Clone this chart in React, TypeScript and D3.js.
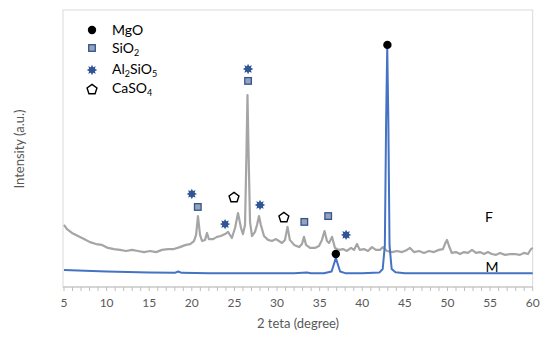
import { useMemo } from 'react';
import * as d3 from 'd3';

/* ── Data (2θ in degrees, intensity a.u.) ── */
const F_THETA = [
  5.0, 5.35, 5.94, 6.64, 7.35, 8.05, 8.76, 9.46, 10.16, 10.87, 11.57, 12.28, 12.98, 13.68, 14.39,
  15.09, 15.8, 16.5, 17.2, 17.9, 18.6, 19.3, 19.8, 20.25, 20.5, 20.72, 20.96, 21.2, 21.55, 21.78,
  22.0, 22.5, 22.95, 23.4, 23.9, 24.25, 24.7, 25.07, 25.42, 25.77, 26.0, 26.24, 26.42, 26.53, 26.65,
  26.83, 27.06, 27.41, 27.65, 27.88, 28.1, 28.47, 28.94, 29.4, 29.88, 30.23, 30.58, 30.93, 31.23, 31.5,
  32.0, 32.58, 32.93, 33.16, 33.4, 33.87, 34.45, 34.92, 35.27, 35.57, 35.86, 36.1, 36.45, 36.8, 37.27,
  37.74, 38.2, 38.68, 39.03, 39.38, 39.7, 40.2, 40.67, 41.14, 41.6, 42.08, 42.43, 42.9, 43.5, 44.07,
  44.66, 45.25, 45.6, 46.07, 46.66, 47.24, 47.83, 48.4, 49.0, 49.47, 49.7, 49.94, 50.18, 50.5, 51.0,
  51.47, 51.94, 52.4, 52.88, 53.35, 53.8, 54.3, 54.75, 55.2, 55.7, 56.16, 56.75, 57.33, 57.9, 58.5,
  58.97, 59.45, 59.8, 60.0,
];
const F_INT = [
  22.4, 20.9, 19.5, 18.4, 17.3, 16.2, 15.5, 15.2, 14.1, 13.7, 13.4, 13.0, 13.4, 13.0, 12.6,
  13.0, 12.6, 13.4, 13.7, 13.7, 14.4, 15.2, 15.5, 16.6, 18.8, 25.6, 18.8, 16.6, 17.0, 19.5,
  17.3, 17.3, 18.1, 18.4, 19.1, 19.9, 17.7, 21.3, 26.7, 21.3, 19.1, 22.4, 49.5, 69.3, 49.5,
  23.5, 18.4, 19.9, 22.4, 25.6, 22.4, 18.4, 17.0, 16.6, 17.3, 16.6, 15.9, 17.0, 21.7, 17.0,
  15.2, 14.4, 15.5, 18.1, 15.2, 14.1, 14.1, 14.8, 17.0, 20.2, 16.6, 15.9, 18.1, 14.1, 13.4,
  13.7, 13.0, 14.1, 13.4, 15.5, 13.4, 13.7, 13.0, 14.4, 13.4, 13.4, 14.4, 13.0, 12.6, 13.0,
  12.6, 13.4, 14.1, 12.6, 13.0, 12.3, 13.0, 12.6, 13.4, 13.7, 15.5, 17.0, 14.8, 12.3, 12.6,
  11.9, 12.6, 12.3, 13.4, 12.3, 12.6, 11.9, 12.6, 11.9, 11.6, 12.3, 11.6, 11.9, 11.9, 11.6,
  12.3, 11.9, 13.7, 14.1,
];

const M_THETA = [
  5.0, 10.0, 15.0, 18.0, 18.4, 18.8, 22.0, 28.0, 32.0, 33.5, 34.0, 35.5, 36.4, 36.7, 36.9,
  37.1, 37.4, 38.0, 40.0, 42.0, 42.4, 42.65, 42.8, 42.93, 43.06, 43.2, 43.45, 43.9, 45.0, 50.0,
  55.0, 60.0,
];
const M_INT = [
  6.1, 5.6, 5.2, 5.1, 5.6, 5.1, 5.0, 5.0, 5.0, 5.2, 5.0, 5.0, 5.6, 8.5, 10.5,
  8.5, 5.6, 5.0, 5.0, 5.2, 6.5, 15, 60, 86.6, 60, 15, 6.5, 5.3, 5.0, 5.0,
  5.0, 5.0,
];

// phase markers [2θ, intensity]
const MGO_PTS = [[42.95, 87.4], [36.9, 11.9]];
const SIO2_PTS = [[26.6, 74.4], [20.7, 28.9], [33.2, 23.5], [36.0, 25.6]];
const AL2SIO5_PTS = [[26.6, 78.7], [20.0, 33.6], [23.9, 22.7], [28.0, 29.6], [38.1, 18.8]];
const CASO4_PTS = [[24.95, 32.5], [30.8, 25.3]];

const X_TICKS = [5, 10, 15, 20, 25, 30, 35, 40, 45, 50, 55, 60];

const BLUE = '#4472c4';
const GRAY = '#a5a5a5';
const DARK_BLUE = '#2f5597';
const TEXT = '#595959';
const FONT = 'Lato, "Open Sans", sans-serif';

const star8 = (() => {
  const pts: [number, number][] = [];
  for (let i = 0; i < 16; i++) {
    const a = (i * Math.PI) / 8;
    const r = i % 2 === 0 ? 5.2 : 3.1;
    pts.push([Math.sin(a) * r, -Math.cos(a) * r]);
  }
  return 'M' + pts.map(p => p.join(',')).join('L') + 'Z';
})();

const pentagon = (() => {
  const pts: [number, number][] = [];
  for (let i = 0; i < 5; i++) {
    const a = (i * 2 * Math.PI) / 5;
    pts.push([Math.sin(a) * 5.2, -Math.cos(a) * 5.2 + 0.6]);
  }
  return 'M' + pts.map(p => p.join(',')).join('L') + 'Z';
})();

const Circle = ({ x, y }: { x: number; y: number }) => <circle cx={x} cy={y} r={4.2} fill="#000" />;
const Square = ({ x, y }: { x: number; y: number }) => (
  <rect x={x - 3.3} y={y - 3.3} width={6.6} height={6.6} fill="#9aa3b3" stroke={DARK_BLUE} strokeWidth={1.3} />
);
const Star = ({ x, y }: { x: number; y: number }) => <path d={star8} transform={`translate(${x},${y})`} fill={DARK_BLUE} />;
const Penta = ({ x, y }: { x: number; y: number }) => (
  <path d={pentagon} transform={`translate(${x},${y})`} fill="#fff" stroke="#000" strokeWidth={1.4} />
);

export default function App() {
  const width = 550;
  const height = 339;
  const left = 64, right = 532.7, top = 10, bottom = 287;

  const x = d3.scaleLinear().domain([5, 60]).range([left, right]);
  const y = d3.scaleLinear().domain([0, 100]).range([bottom, top]);

  const { fPath, mPath } = useMemo(() => {
    const line = d3.line<[number, number]>().x(d => x(d[0])).y(d => y(d[1]));
    const f = F_THETA.map((t, i) => [t, F_INT[i]] as [number, number]);
    const m = M_THETA.map((t, i) => [t, M_INT[i]] as [number, number]);
    return { fPath: line(f) ?? '', mPath: line(m) ?? '' };
  }, []);

  const minor = d3.range(5, 61, 1);

  return (
    <svg width={width} height={height} style={{ position: 'absolute', left: 0, top: 0, background: '#fff' }}>
      {/* plot frame */}
      <rect x={left - 1} y={top} width={right - left + 1} height={bottom - top} fill="none" stroke="#d9d9d9" strokeWidth={1} />

      {/* series */}
      <path d={fPath} fill="none" stroke={GRAY} strokeWidth={2.2} strokeLinejoin="round" />
      <path d={mPath} fill="none" stroke={BLUE} strokeWidth={2} strokeLinejoin="round" />

      {/* x axis */}
      <line x1={left - 1} x2={right} y1={bottom} y2={bottom} stroke="#bfbfbf" strokeWidth={1} />
      {minor.map(t => (
        <line key={t} x1={x(t)} x2={x(t)} y1={bottom} y2={bottom + 4} stroke="#bfbfbf" strokeWidth={1} />
      ))}
      {X_TICKS.map(t => (
        <text key={t} x={x(t)} y={307} textAnchor="middle" fontSize={12} fill={TEXT} fontFamily={FONT}>{t}</text>
      ))}
      <text x={298} y={328} textAnchor="middle" fontSize={13} fill={TEXT} fontFamily={FONT}>2 teta (degree)</text>
      <text transform="translate(24,149) rotate(-90)" textAnchor="middle" fontSize={13} fill={TEXT} fontFamily={FONT}>Intensity (a.u.)</text>

      {/* phase markers */}
      {MGO_PTS.map((p, i) => <Circle key={'m' + i} x={x(p[0])} y={y(p[1])} />)}
      {SIO2_PTS.map((p, i) => <Square key={'s' + i} x={x(p[0])} y={y(p[1])} />)}
      {AL2SIO5_PTS.map((p, i) => <Star key={'a' + i} x={x(p[0])} y={y(p[1])} />)}
      {CASO4_PTS.map((p, i) => <Penta key={'c' + i} x={x(p[0])} y={y(p[1])} />)}

      {/* series labels */}
      <text x={489} y={222} textAnchor="middle" fontSize={14} fill="#000" fontFamily={FONT}>F</text>
      <text x={492} y={272} textAnchor="middle" fontSize={14} fill="#000" fontFamily={FONT}>M</text>

      {/* legend */}
      <g fontFamily={FONT} fontSize={14} fill="#000">
        <Circle x={92} y={30} />
        <text x={112} y={35}>MgO</text>
        <Square x={92} y={48} />
        <text x={112} y={53}>SiO<tspan fontSize={9} dy={3}>2</tspan></text>
        <Star x={92} y={70} />
        <text x={112} y={74}>Al<tspan fontSize={9} dy={3}>2</tspan><tspan dy={-3}>SiO</tspan><tspan fontSize={9} dy={3}>5</tspan></text>
        <Penta x={92} y={89} />
        <text x={112} y={93}>CaSO<tspan fontSize={9} dy={3}>4</tspan></text>
      </g>
    </svg>
  );
}
